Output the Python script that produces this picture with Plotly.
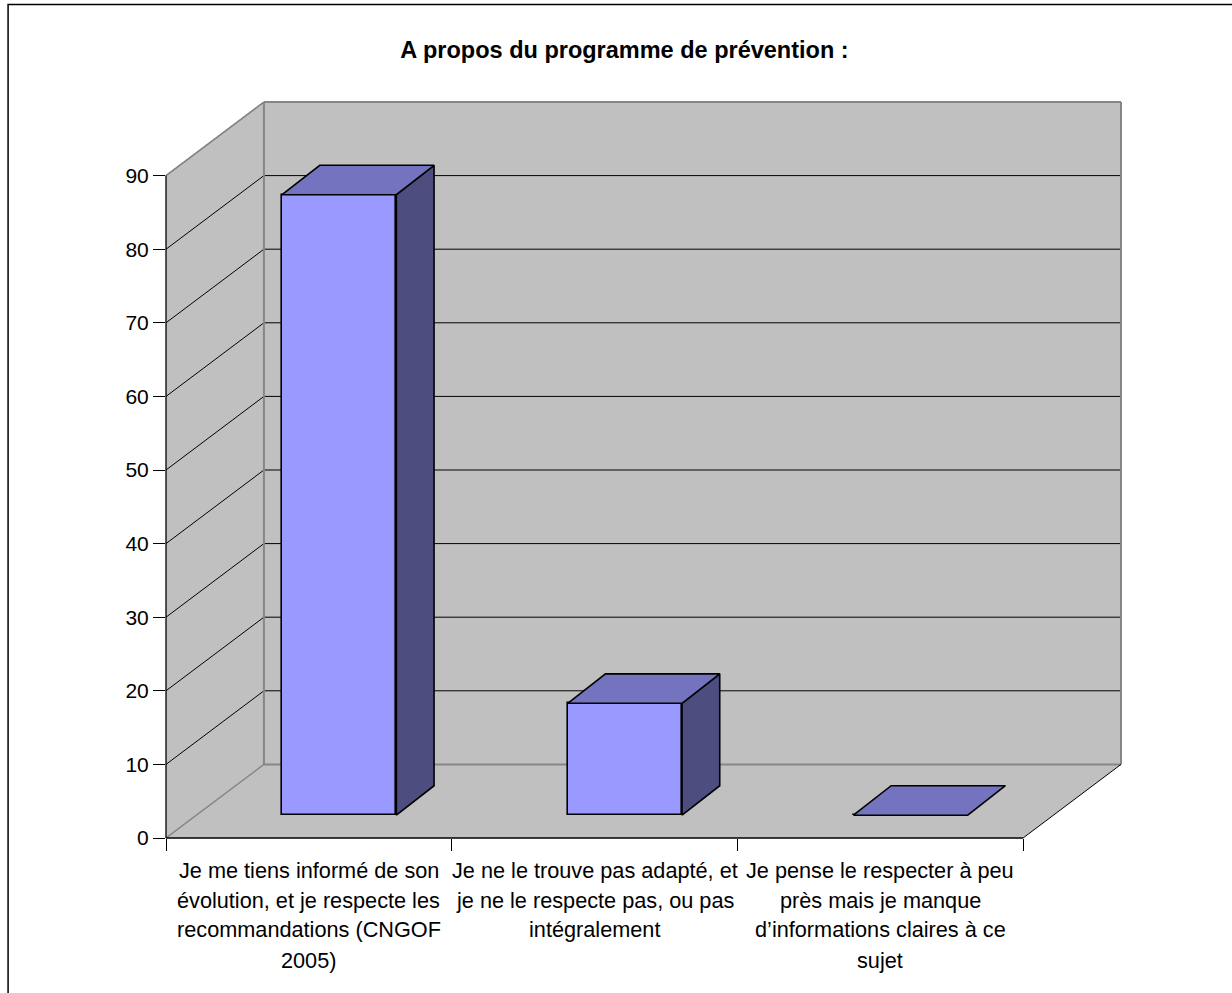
import plotly.graph_objects as go

TITLE = "A propos du programme de prévention :"
CATEGORY_LINES = [
    ["Je me tiens informé de son", "évolution, et je respecte les", "recommandations (CNGOF", "2005)"],
    ["Je ne le trouve pas adapté, et", "je ne le respecte pas, ou pas", "intégralement"],
    ["Je pense le respecter à peu", "près mais je manque", "d’informations claires à ce", "sujet"],
]
VALUES = [84.3, 15.2, 0]
Y_TICKS = [0, 10, 20, 30, 40, 50, 60, 70, 80, 90]
N = len(VALUES)

# Oblique projection of the depth axis into the plot's own x / y units
DX = 0.3428
DY = 10.0
BAR_W = 0.4
BAR_D0 = 0.31
BAR_DX = 0.385
BAR_DY = 0.40

FONT = "Liberation Sans"
WALL = "#C0C0C0"
EDGE = "#868686"
FRONT = "#9999FF"
TOP = "#7373BF"
SIDE = "#4D4D80"
top = Y_TICKS[-1]


def path(pts):
    return "M " + " L ".join(f"{x} {y}" for x, y in pts) + " Z"


def wall(pts):
    return dict(type="path", path=path(pts), xref="x", yref="y", layer="below",
                fillcolor=WALL, line=dict(width=0))


def seg(x0, y0, x1, y1, color, width):
    return dict(type="line", x0=x0, y0=y0, x1=x1, y1=y1, xref="x", yref="y", layer="below",
                line=dict(color=color, width=width))


def outer(x0, y0, x1, y1, color, width):
    # Edge on the border of the plot area: paper coordinates so it is not clipped
    sx, sy = N + DX, top + DY
    return dict(type="line", x0=x0 / sx, y0=y0 / sy, x1=x1 / sx, y1=y1 / sy,
                xref="paper", yref="paper", layer="above",
                line=dict(color=color, width=width))


shapes = [
    wall([(DX, DY), (N + DX, DY), (N + DX, top + DY), (DX, top + DY)]),
    wall([(0, 0), (DX, DY), (DX, top + DY), (0, top)]),
    wall([(0, 0), (N, 0), (N + DX, DY), (DX, DY)]),
]
for v in Y_TICKS[1:]:
    shapes.append(seg(0, v, DX, v + DY, "black", 1))
    shapes.append(seg(DX, v + DY, N + DX, v + DY, "black", 1))
shapes.append(seg(0, 0, DX, DY, EDGE, 1.5))
shapes.append(seg(DX, DY, N + DX, DY, EDGE, 2))
shapes.append(seg(DX, DY, DX, top + DY, EDGE, 2))
shapes.append(outer(0, top, DX, top + DY, EDGE, 1.5))
shapes.append(outer(DX, top + DY, N + DX, top + DY, EDGE, 2))
shapes.append(outer(N + DX, top + DY, N + DX, DY, EDGE, 2))
shapes.append(outer(0, top, 0, 0, "black", 1.3))
shapes.append(outer(0, 0, N, 0, "black", 1.3))
shapes.append(outer(N, 0, N + DX, DY, "black", 1))
# Outer chart frame, runs off the right and bottom of the page
shapes.append(dict(type="rect", xref="paper", yref="paper",
                   x0=(7.5 - 165.5) / 955.5, x1=1.2, y0=-0.3, y1=(838 - 5) / 735.6,
                   line=dict(color="black", width=1.5), layer="below"))

fig = go.Figure()

centers = [i + 0.5 + BAR_D0 * DX for i in range(N)]
bases = [BAR_D0 * DY] * N
fig.add_trace(go.Bar(x=centers, y=VALUES, base=bases, width=BAR_W,
                     marker=dict(color=FRONT, line=dict(color="black", width=1.6)),
                     hoverinfo="skip", showlegend=False))

for cx, base, val in zip(centers, bases, VALUES):
    x0, x1 = cx - BAR_W / 2, cx + BAR_W / 2
    y0, y1 = base, base + val
    ddx, ddy = BAR_DX * DX, BAR_DY * DY
    if val > 0:
        fig.add_trace(go.Scatter(
            x=[x1, x1 + ddx, x1 + ddx, x1, x1], y=[y0, y0 + ddy, y1 + ddy, y1, y0],
            mode="lines", fill="toself", fillcolor=SIDE, line=dict(color="black", width=1.6),
            hoverinfo="skip", showlegend=False))
    fig.add_trace(go.Scatter(
        x=[x0, x1, x1 + ddx, x0 + ddx, x0], y=[y1, y1, y1 + ddy, y1 + ddy, y1],
        mode="lines", fill="toself", fillcolor=TOP, line=dict(color="black", width=1.6),
        hoverinfo="skip", showlegend=False))

annotations = []
LINE_Y = [870, 900, 929.5, 960]
for i, lines in enumerate(CATEGORY_LINES):
    for j, text in enumerate(lines):
        annotations.append(dict(x=i + 0.5, xref="x", y=(838 - LINE_Y[j]) / 735.6, yref="paper",
                                text=text, showarrow=False, xanchor="center", yanchor="middle",
                                font=dict(family=FONT, size=21.7, color="black")))

fig.update_layout(
    width=1232, height=993,
    margin=dict(l=165.5, r=111, t=102.4, b=155, pad=0, autoexpand=False),
    paper_bgcolor="white", plot_bgcolor="white",
    showlegend=False, bargap=0,
    title=dict(text=TITLE, x=624.5 / 1232, xanchor="center", y=1 - 50 / 993, yanchor="middle",
               font=dict(family=FONT, size=23.5, color="black", weight=700)),
    xaxis=dict(range=[0, N + DX], tickvals=list(range(N + 1)), ticks="outside", ticklen=12,
               tickcolor="black", tickwidth=1, showticklabels=False, showgrid=False,
               zeroline=False, showline=False),
    yaxis=dict(range=[0, top + DY], tickvals=Y_TICKS, ticks="outside", ticklen=12,
               tickcolor="black", tickwidth=1, showgrid=False, zeroline=False, showline=False,
               tickfont=dict(family=FONT, size=21, color="black")),
    shapes=shapes, annotations=annotations,
)

fig.write_html("out.html", config=dict(displayModeBar=False),
               post_script="document.body.style.margin='0';")
